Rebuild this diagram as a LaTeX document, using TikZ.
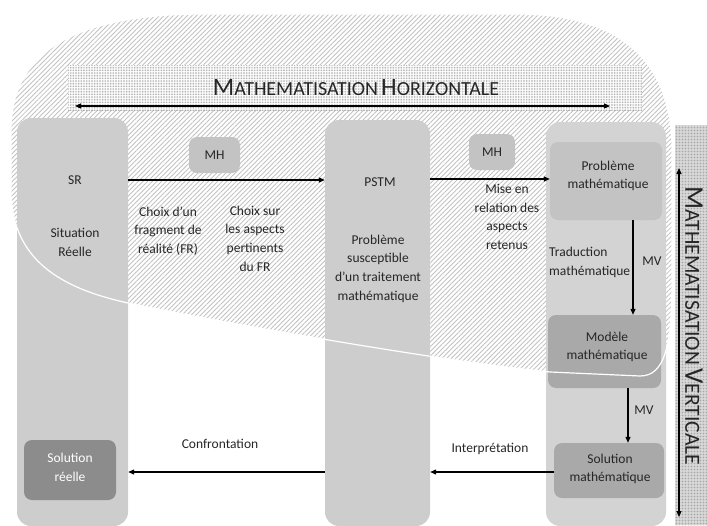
\documentclass[tikz,border=0pt]{standalone}
\usepackage{fontspec}
\setmainfont{Carlito}
\usetikzlibrary{arrows.meta,patterns.meta}
\definecolor{colgray}{HTML}{CDCDCD}
\definecolor{rcolgray}{HTML}{D3D3D3}
\definecolor{boxgray}{HTML}{C3C3C3}
\definecolor{darkbox}{HTML}{A9A9A9}
\definecolor{solgray}{HTML}{8C8C8C}
\definecolor{txtcol}{HTML}{262626}
\newcommand\mysc[3]{{\fontsize{#1}{#1}\selectfont #2}{\fontsize{\fpeval{0.8*#1}}{\fpeval{0.8*#1}}\selectfont #3}}
\def\blobpath{(11,195) -- (11,130) .. controls (11,55) and (70,15) .. (200,14) -- (520,14) .. controls (630,15) and (672,70) .. (672,150) -- (672,280) .. controls (672,345) and (665,376) .. (640,376) -- (550,372) .. controls (450,362) and (250,328) .. (128,303) .. controls (60,288) and (14,260) .. (11,195) -- cycle}
\begin{document}
\begin{tikzpicture}[x=1pt,y=-1pt,
  col/.style={fill=#1, rounded corners=14pt, inner sep=0pt, draw=none},
  box/.style={fill=#1, rounded corners=8pt, inner sep=0pt, draw=none},
  txt/.style={text=txtcol, font=\fontsize{13.5}{18.7}\selectfont, align=center, inner sep=0pt},
  arr/.style={draw=black, line width=1.2pt, -{Triangle[length=6pt,width=5pt]}},
  darr/.style={draw=black, line width=1.2pt, {Triangle[length=6pt,width=5pt]}-{Triangle[length=6pt,width=5pt]}}
]
\useasboundingbox (0,0) rectangle (707,525);
% hatched blob
\fill[pattern={Lines[angle=45,distance=3.3pt,line width=0.85pt]}, pattern color=gray!48] \blobpath;
% horizontal dotted band
\fill[white] (68,65) rectangle (642,110);
\fill[pattern={Dots[distance=1.6pt,radius=0.4pt]}, pattern color=gray] (68,65) rectangle (642,110);
% vertical dotted band
\fill[gray!25] (675,125) rectangle (707,525);
\fill[pattern={Dots[distance=1.5pt,radius=0.45pt]}, pattern color=gray!90] (675,125) rectangle (707,525);
% columns
\node[col=colgray, minimum width=111pt, minimum height=408pt] (SRcol) at (72.5,322) {};
\node[col=colgray, minimum width=105pt, minimum height=406pt] (PSTMcol) at (377.5,323) {};
\node[col=rcolgray, minimum width=120pt, minimum height=404pt] (Rcol) at (606,324) {};
% boxes
\node[box=boxgray, minimum width=51pt, minimum height=36pt] (MH1) at (214.5,155) {};
\node[box=boxgray, minimum width=46pt, minimum height=36pt] (MH2) at (492,152) {};
\node[box=boxgray, minimum width=112pt, minimum height=78pt] (PM) at (606,181) {};
\node[box=darkbox, minimum width=113pt, minimum height=73pt] (Mod) at (604.5,351.5) {};
\node[box=darkbox, minimum width=110pt, minimum height=55pt] (SM) at (609,470.5) {};
\node[box=solgray, minimum width=92pt, minimum height=60pt] (SRsol) at (70,470) {};
% white boundary
\draw[white, line width=1.2pt] \blobpath;
% texts
\node[txt] (MH1t) at (MH1) {MH};
\node[txt] (MH2t) at (MH2) {MH};
\node[txt] (SR) at (75,180) {SR};
\node[txt] (SRt) at (75,242.5) {Situation\\Réelle};
\node[txt] (c1) at (168,231) {Choix d’un\\fragment de\\réalité (FR)};
\node[txt] (c2) at (255,238.5) {Choix sur\\les aspects\\pertinents\\du FR};
\node[txt] (PSTM) at (380,182) {PSTM};
\node[txt] (PSTMt) at (378,268.5) {Problème\\susceptible\\d’un traitement\\mathématique};
\node[txt] (mise) at (507,217) {Mise en\\relation des\\aspects\\retenus};
\node[txt] (PMt) at (608,176) {Problème\\mathématique};
\node[txt, align=left, anchor=west] (trad) at (549,262.5) {Traduction\\mathématique};
\node[txt] (MV1) at (652,261) {MV};
\node[txt] (Modt) at (607,347) {Modèle\\mathématique};
\node[txt] (MV2) at (644,410) {MV};
\node[txt] (SMt) at (610,469) {Solution\\mathématique};
\node[txt, text=white] (SRsolt) at (70,467.5) {Solution\\réelle};
\node[txt] (interp) at (490,449) {Interprétation};
\node[txt] (confr) at (220,444) {Confrontation};
\node[txt] (titleH) at (356,88) {\mysc{25}{M}{ATHEMATISATION} \mysc{25}{H}{ORIZONTALE}};
\node[txt, rotate=-90] (titleV) at (694,326) {\mysc{27}{M}{ATHEMATISATION} \mysc{27}{V}{ERTICALE}};
% connectors
\coordinate (hl) at (75,106);
\coordinate (hr) at (610,106);
\draw[darr] (hl) -- (hr);
\coordinate (vt) at (679,168);
\coordinate (vb) at (679,517);
\draw[darr] (vt) -- (vb);
\draw[arr] (SRcol.east |- SR) -- (PSTMcol.west |- SR);
\coordinate (a2y) at (0,179);
\draw[arr] (PSTMcol.east |- a2y) -- (PM.west |- a2y);
\coordinate (d1) at (633,0);
\draw[arr] (PM.south -| d1) -- (Mod.north -| d1);
\coordinate (d2) at (628,0);
\draw[arr] (Mod.south -| d2) -- (SM.north -| d2);
\coordinate (hy) at (0,472);
\draw[arr] (SM.west |- hy) -- (PSTMcol.east |- hy);
\draw[arr] (PSTMcol.west |- hy) -- (SRcol.east |- hy);
\end{tikzpicture}
\end{document}
